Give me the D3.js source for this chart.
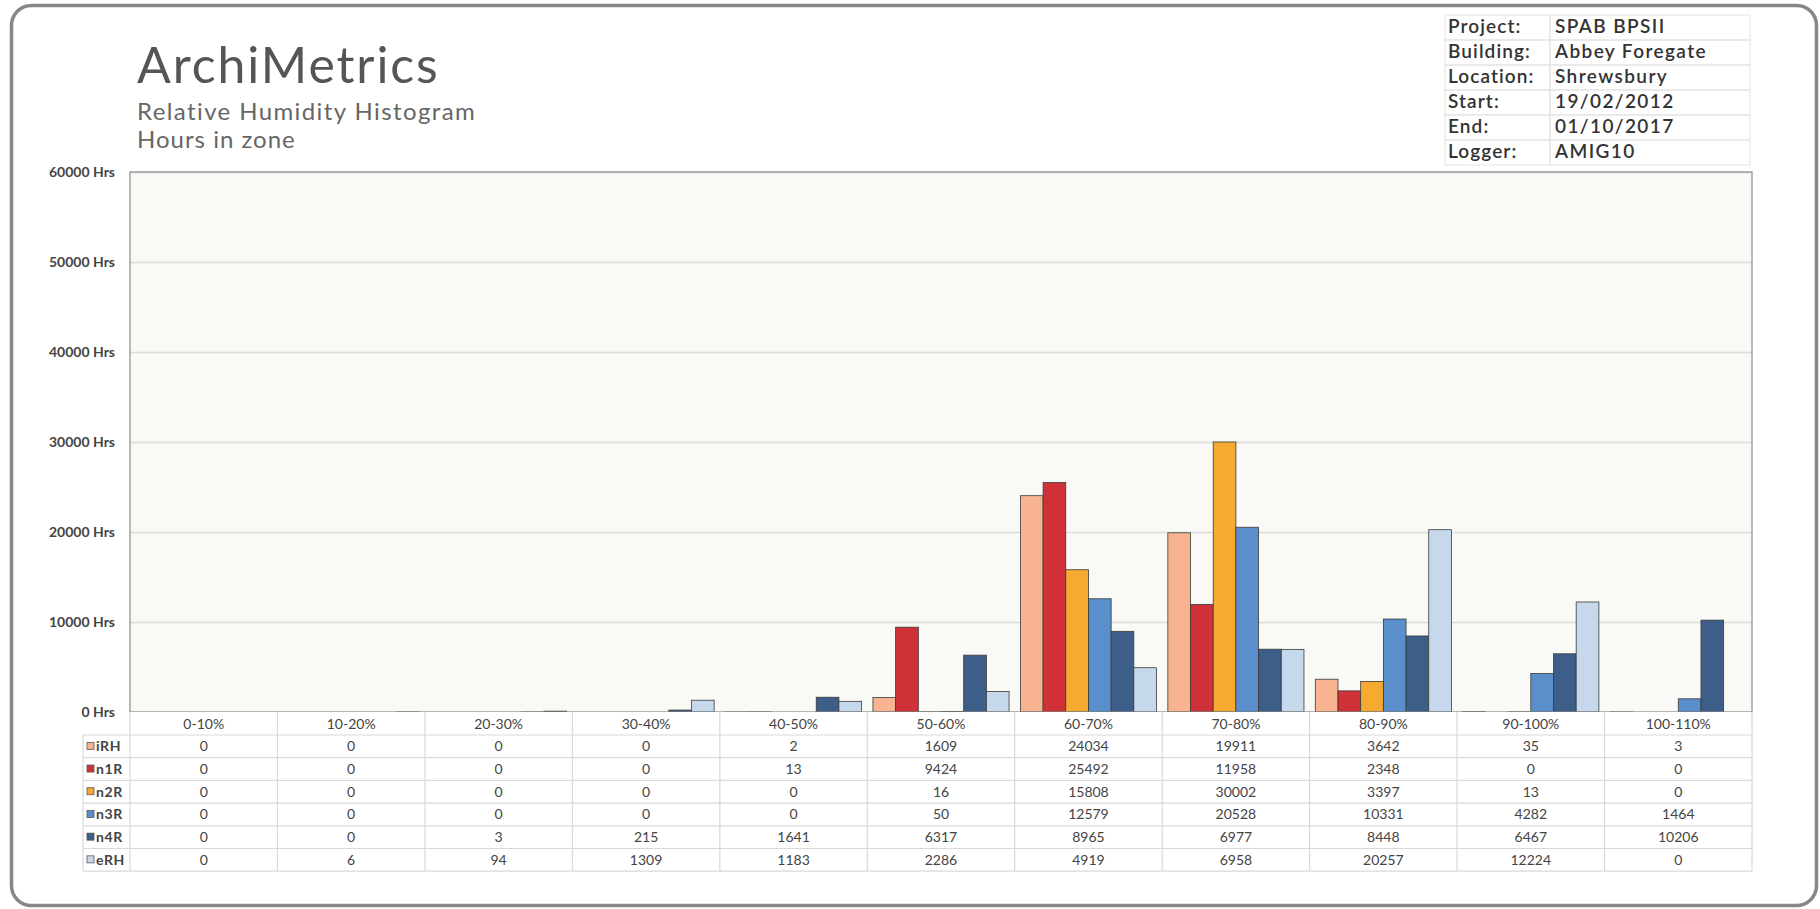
<!DOCTYPE html>
<html>
<head>
<meta charset="utf-8">
<script src="https://cdn.jsdelivr.net/npm/d3@7/dist/d3.min.js"></script>
<style>
  html, body { margin: 0; padding: 0; background: #ffffff; }
  svg { display: block; }
  text { font-family: Lato, "Noto Sans", sans-serif; }
</style>
</head>
<body>
<svg id="chart" width="1820" height="909"></svg>
<script>
// Humidity bands (x categories)
const categories = ["0-10%", "10-20%", "20-30%", "30-40%", "40-50%", "50-60%",
                    "60-70%", "70-80%", "80-90%", "90-100%", "100-110%"];

// Hours in each band, per sensor
const seriesNames = ["iRH", "n1R", "n2R", "n3R", "n4R", "eRH"];
const iRH = [0, 0, 0, 0, 2, 1609, 24034, 19911, 3642, 35, 3];
const n1R = [0, 0, 0, 0, 13, 9424, 25492, 11958, 2348, 0, 0];
const n2R = [0, 0, 0, 0, 0, 16, 15808, 30002, 3397, 13, 0];
const n3R = [0, 0, 0, 0, 0, 50, 12579, 20528, 10331, 4282, 1464];
const n4R = [0, 0, 3, 215, 1641, 6317, 8965, 6977, 8448, 6467, 10206];
const eRH = [0, 6, 94, 1309, 1183, 2286, 4919, 6958, 20257, 12224, 0];
const seriesColors = ["#f8b490", "#d03038", "#f7aa30", "#5a8fcb", "#3d5e89", "#c6d8ec"];

// Y axis ticks
const yTicks = [0, 10000, 20000, 30000, 40000, 50000, 60000];

// Header details
const infoLabels = ["Project:", "Building:", "Location:", "Start:", "End:", "Logger:"];
const infoValues = ["SPAB BPSII", "Abbey Foregate", "Shrewsbury", "19/02/2012", "01/10/2017", "AMIG10"];

const seriesValues = [iRH, n1R, n2R, n3R, n4R, eRH];
const series = seriesNames.map((name, i) => ({ name, color: seriesColors[i], values: seriesValues[i] }));

const svg = d3.select("#chart");

// Layout
const plot = { left: 130, right: 1752, top: 172, bottom: 712 };
const rowH = 22.7;
const headerBottom = 735;
const legendLeft = 83;
const tableBottom = headerBottom + rowH * series.length;

// Outer frame
svg.append("rect")
  .attr("x", 11.5).attr("y", 5.5).attr("width", 1805).attr("height", 900)
  .attr("rx", 20).attr("ry", 20)
  .attr("fill", "#ffffff").attr("stroke", "#878787").attr("stroke-width", 3.5);

// Titles
svg.append("text").attr("x", 137).attr("y", 83)
  .attr("font-size", 50).attr("fill", "#555555").attr("font-weight", 400)
  .attr("letter-spacing", 1.9)
  .text("ArchiMetrics");
svg.append("text").attr("x", 137).attr("y", 120)
  .attr("font-size", 24).attr("fill", "#666666").attr("letter-spacing", 1.4)
  .text("Relative Humidity Histogram");
svg.append("text").attr("x", 137).attr("y", 148)
  .attr("font-size", 24).attr("fill", "#666666").attr("letter-spacing", 1.0)
  .text("Hours in zone");

// Info table
const info = svg.append("g");
const infoTop = 15, infoRowH = 25, infoX0 = 1445, infoX1 = 1550, infoX2 = 1750;
infoLabels.forEach((lab, i) => {
  const y0 = infoTop + i * infoRowH;
  info.append("rect").attr("x", infoX0).attr("y", y0).attr("width", infoX1 - infoX0).attr("height", infoRowH)
    .attr("fill", "none").attr("stroke", "#e3e3e3");
  info.append("rect").attr("x", infoX1).attr("y", y0).attr("width", infoX2 - infoX1).attr("height", infoRowH)
    .attr("fill", "none").attr("stroke", "#e3e3e3");
  info.append("text").attr("x", infoX0 + 3).attr("y", y0 + 18)
    .attr("font-size", 19).attr("font-weight", 600).attr("letter-spacing", 1.1)
    .attr("fill", "#333333").text(lab);
  info.append("text").attr("x", infoX1 + 5).attr("y", y0 + 18)
    .attr("font-size", 19).attr("font-weight", 600).attr("letter-spacing", 1.4)
    .attr("fill", "#333333").text(infoValues[i]);
});

// Scales
const x = d3.scaleBand().domain(categories).range([plot.left, plot.right]).paddingInner(0).paddingOuter(0);
const xs = d3.scaleBand().domain(seriesNames).range([0, x.bandwidth()]).paddingInner(0).paddingOuter(0.25);
const y = d3.scaleLinear().domain([0, 60000]).range([plot.bottom, plot.top]);

// Plot background
svg.append("rect")
  .attr("x", plot.left).attr("y", plot.top)
  .attr("width", plot.right - plot.left).attr("height", plot.bottom - plot.top)
  .attr("fill", "#f9f9f5");

// Gridlines
svg.append("g")
  .attr("transform", `translate(${plot.left},0)`)
  .call(d3.axisLeft(y).tickValues(yTicks).tickSize(-(plot.right - plot.left)).tickFormat(""))
  .call(g => g.select(".domain").remove())
  .call(g => g.selectAll(".tick line").attr("stroke", "#dcdcdc").attr("stroke-width", 1.5));

// Y axis labels
svg.append("g")
  .attr("transform", `translate(${plot.left},0)`)
  .call(d3.axisLeft(y).tickValues(yTicks).tickSize(0).tickPadding(15).tickFormat(d => d + " Hrs"))
  .call(g => g.select(".domain").remove())
  .call(g => g.selectAll(".tick text")
    .attr("font-family", "Lato, 'Noto Sans', sans-serif")
    .attr("font-size", 14).attr("font-weight", 700).attr("fill", "#444444"));

// Bars
const groups = svg.append("g").selectAll("g")
  .data(categories)
  .join("g")
  .attr("transform", d => `translate(${x(d)},0)`);

groups.selectAll("rect")
  .data((c, ci) => series.map(s => ({ name: s.name, color: s.color, value: s.values[ci] })))
  .join("rect")
  .attr("x", d => xs(d.name))
  .attr("width", xs.bandwidth())
  .attr("y", d => y(d.value))
  .attr("height", d => y(0) - y(d.value))
  .attr("fill", d => d.color)
  .attr("stroke", d => d.value > 0 ? "#3a3a3a" : "none")
  .attr("stroke-width", 0.8);

// Plot border
svg.append("rect")
  .attr("x", plot.left).attr("y", plot.top)
  .attr("width", plot.right - plot.left).attr("height", plot.bottom - plot.top)
  .attr("fill", "none").attr("stroke", "#8c8c8c").attr("stroke-width", 1.2);

// Data table
const table = svg.append("g");
const lineColor = "#d9d9d9";

// Header row background and labels
table.append("rect").attr("x", plot.left).attr("y", plot.bottom)
  .attr("width", plot.right - plot.left).attr("height", headerBottom - plot.bottom)
  .attr("fill", "#ffffff");
table.append("rect").attr("x", legendLeft).attr("y", headerBottom)
  .attr("width", plot.right - legendLeft).attr("height", tableBottom - headerBottom)
  .attr("fill", "#ffffff");

table.selectAll("text.cat")
  .data(categories)
  .join("text")
  .attr("class", "cat")
  .attr("x", d => x(d) + x.bandwidth() / 2)
  .attr("y", (plot.bottom + headerBottom) / 2 + 5)
  .attr("text-anchor", "middle")
  .attr("font-size", 14).attr("fill", "#444444")
  .text(d => d);

// Horizontal rules
const rowEdges = d3.range(series.length + 1).map(i => headerBottom + i * rowH);
table.selectAll("line.h")
  .data(rowEdges)
  .join("line")
  .attr("class", "h")
  .attr("x1", legendLeft).attr("x2", plot.right)
  .attr("y1", d => d).attr("y2", d => d)
  .attr("stroke", lineColor).attr("stroke-width", 1.2);

// Vertical rules between categories
const colEdges = categories.map(c => x(c)).concat([plot.right]);
table.selectAll("line.v")
  .data(colEdges)
  .join("line")
  .attr("class", "v")
  .attr("x1", d => d).attr("x2", d => d)
  .attr("y1", plot.bottom).attr("y2", tableBottom)
  .attr("stroke", lineColor).attr("stroke-width", 1.2);
table.append("line")
  .attr("x1", legendLeft).attr("x2", legendLeft)
  .attr("y1", headerBottom).attr("y2", tableBottom)
  .attr("stroke", lineColor).attr("stroke-width", 1.2);

// Rows: legend key + values
series.forEach((s, i) => {
  const yc = headerBottom + i * rowH + rowH / 2;
  table.append("rect")
    .attr("x", 87).attr("y", yc - 4).attr("width", 7).attr("height", 7)
    .attr("fill", s.color).attr("stroke", "#555555").attr("stroke-width", 0.8);
  table.append("text")
    .attr("x", 96).attr("y", yc + 5)
    .attr("font-size", 14).attr("font-weight", 700).attr("fill", "#444444")
    .attr("letter-spacing", 0.6)
    .text(s.name);
  table.selectAll(null)
    .data(s.values)
    .join("text")
    .attr("x", (v, ci) => x(categories[ci]) + x.bandwidth() / 2)
    .attr("y", yc + 5)
    .attr("text-anchor", "middle")
    .attr("font-size", 14).attr("fill", "#444444")
    .text(v => v);
});
</script>
</body>
</html>
